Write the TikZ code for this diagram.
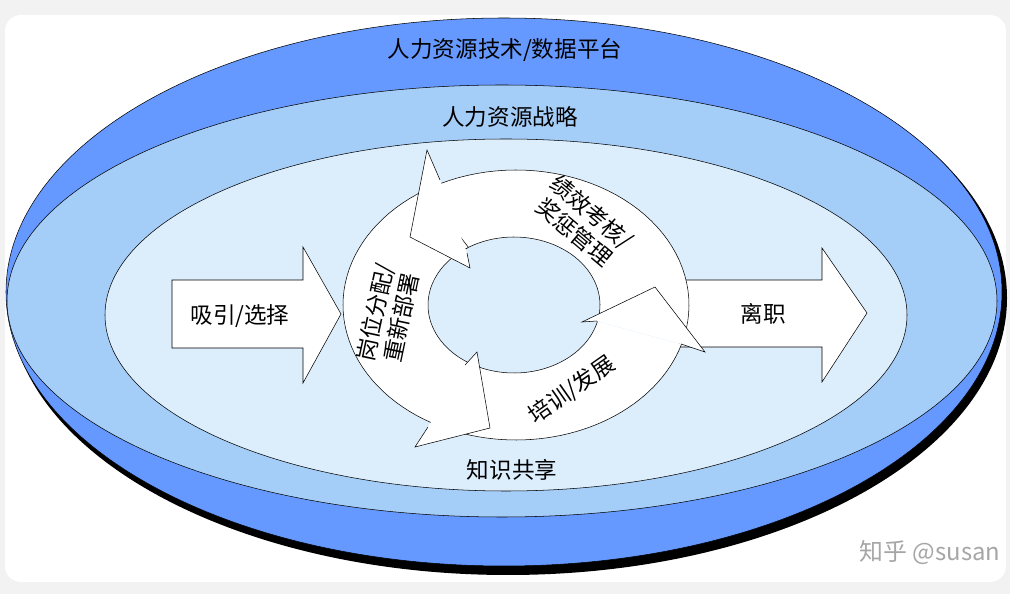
\documentclass[tikz,border=0pt]{standalone}
\usepackage{fontspec}
\setmainfont{Noto Sans CJK SC}
\usepackage{tikz}
\usetikzlibrary{calc}

\definecolor{diskblue}{RGB}{102,153,255}
\definecolor{midblue}{RGB}{164,205,248}
\definecolor{paleblue}{RGB}{220,237,252}

% ring arrow body: outer arc #1 -> #2, inner arc #3 -> #4
\newcommand{\ringbody}[4]{%
  \fill[white] plot[domain=#1:#2,samples=40,variable=\t] ({516+173*cos(\t)},{305-135*sin(\t)})
    -- plot[domain=#3:#4,samples=40,variable=\t] ({514+86*cos(\t)},{305-68*sin(\t)}) -- cycle;
  \draw plot[domain=#1:#2,samples=40,variable=\t] ({516+173*cos(\t)},{305-135*sin(\t)});
  \draw plot[domain=#3:#4,samples=40,variable=\t] ({514+86*cos(\t)},{305-68*sin(\t)})
    -- ({516+173*cos(#1)},{305-135*sin(#1)});
}

\begin{document}
\begin{tikzpicture}[x=0.0265cm,y=-0.0265cm,font=\fontsize{17}{20}\selectfont]
    \useasboundingbox (0,0) rectangle (1010,594);

    % draw background
    \fill[gray!10] (0,0) rectangle (1010,594);
    \fill[white,rounded corners=12pt] (5,15) rectangle (1006,582);

    % draw disk and layers
    \fill[black] (508,298) ellipse [x radius=499, y radius=277];
    \draw[fill=diskblue] (504,292) ellipse [x radius=498, y radius=274];
    \draw[fill=midblue] (502,301) ellipse [x radius=495, y radius=216];
    \draw[fill=paleblue] (506,315) ellipse [x radius=401, y radius=176];

    % draw side arrows
    \draw[fill=white] (172,280) -- (303,280) -- (303,247) -- (341,314)
        -- (303,383) -- (303,348) -- (172,348) -- cycle;
    \draw[fill=white] (680,280) -- (822,280) -- (822,248) -- (867,313)
        -- (822,382) -- (822,347) -- (680,347) -- cycle;

    % draw ring bodies
    \ringbody{-10}{116}{125}{-10}
    \ringbody{122}{241}{237}{122}
    \ringbody{245}{343}{346}{245}

    % draw ring heads
    \fill[white] (440,180) -- (427,150) -- (410,237) -- (470,268) -- (467,253) -- cycle;
    \draw (440,180) -- (427,150) -- (410,237) -- (470,268) -- (467,253);
    \fill[white] (428,427) -- (415,447) -- (490,428) -- (477,352) -- (465,365) -- cycle;
    \draw (428,427) -- (415,447) -- (490,428) -- (477,352) -- (465,365);
    \fill[white] (681,344) -- (705,352) -- (655,287) -- (582,322) -- (597,321) -- cycle;
    \draw (681,344) -- (705,352) -- (655,287) -- (582,322) -- (597,321);

    % draw labels
    \node (platform) at (505,50) {人力资源技术/数据平台};
    \node (strategy) at (510,117) {人力资源战略};
    \node (sharing)  at (512,470) {知识共享};
    \node (attract)  at (240,316) {吸引/选择};
    \node (leave)    at (763,314) {离职};
    \node[align=center,rotate=-40,inner sep=0pt] (appraise) at (583,222) {绩效考核/\\奖惩管理};
    \node[align=center,rotate=78,inner sep=0pt] (assign) at (388,315) {岗位分配/\\重新部署};
    \node[rotate=35,inner sep=0pt] (train) at (572,390) {培训/发展};
    \node[gray!70,font=\fontsize{18}{20}\selectfont] (mark) at (930,553) {知乎 @susan};
\end{tikzpicture}
\end{document}
